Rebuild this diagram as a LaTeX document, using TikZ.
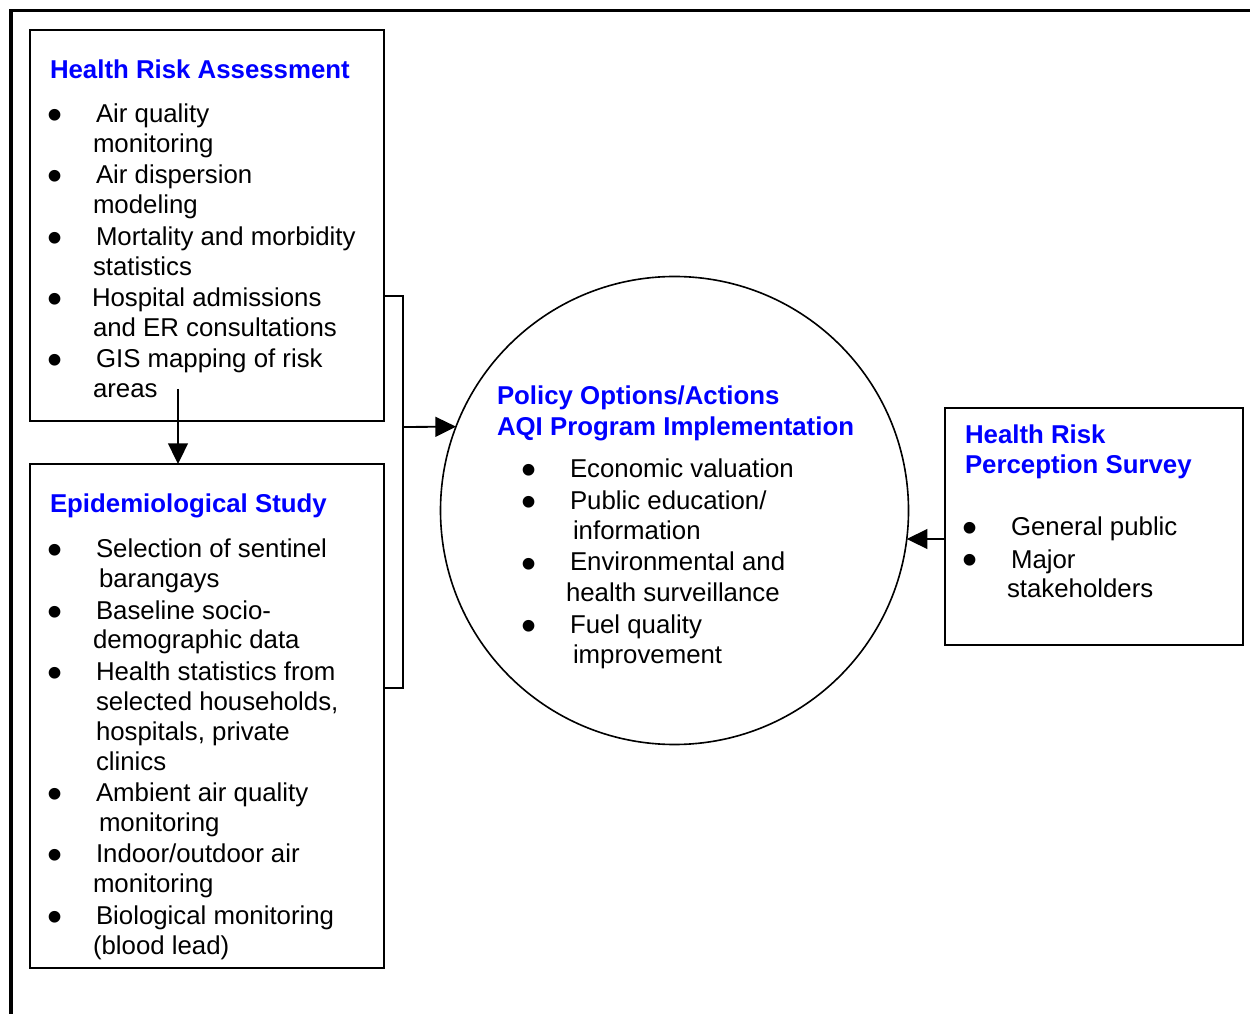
\documentclass[tikz,border=0pt]{standalone}
\usepackage{fontspec}
\setmainfont{Liberation Sans}
\usetikzlibrary{arrows.meta}
\newdimen\px \px=0.465pt
\definecolor{titleblue}{RGB}{0,0,255}
% one text line: name, x, baseline y, text
\newcommand\tline[4]{\node[txt] (#1) at (#2,#3) {#4};}
% one title line
\newcommand\titleline[4]{\node[ttl] (#1) at (#2,#3) {#4};}
% one bullet: name, x centre, baseline y
\newcommand\bulletmark[3]{\node[dot] (#1) at (#2,#3+7) {\textbullet};}
\begin{document}
\begin{tikzpicture}[x=0.465pt,y=-0.465pt,
  every node/.style={inner sep=0pt, outer sep=0pt},
  txt/.style={font=\fontsize{12}{13.9}\selectfont, anchor=base west, yshift=-1\px},
  ttl/.style={txt, font=\fontsize{12}{13.9}\selectfont\bfseries, text=titleblue},
  dot/.style={font=\fontsize{20}{20}\selectfont, anchor=base, yshift=-1\px},
  panel/.style={draw, line width=0.9pt},
  conn/.style={line width=0.85pt},
  arr/.style={conn, -{Triangle[length=9.6pt,width=9.2pt]}},
  frameline/.style={line width=1.4pt}]

\fill[white] (0,0) rectangle (1250,1014);
\useasboundingbox (0,0) rectangle (1250,1014);

% outer frame
\draw[frameline] (11,1014) -- (11,11) -- (1250,11);

% panels
\node[panel, minimum width=354\px, minimum height=391\px] (hra) at (207,225.5) {};
\node[panel, minimum width=354\px, minimum height=504\px] (epi) at (207,716) {};
\node[panel, minimum width=298\px, minimum height=237\px] (survey) at (1094,526.5) {};
\node[draw, circle, line width=0.75pt, minimum size=468\px] (policy) at (674.5,510.5) {};

% Health Risk Assessment
\titleline{hraT}{50}{78}{Health Risk Assessment}
\bulletmark{hraB1}{55}{122}\tline{hra1}{96}{122}{Air quality}\tline{hra1b}{93}{152}{monitoring}
\bulletmark{hraB2}{55}{183}\tline{hra2}{96}{183}{Air dispersion}\tline{hra2b}{93}{213}{modeling}
\bulletmark{hraB3}{55}{245}\tline{hra3}{96}{245}{Mortality and morbidity}\tline{hra3b}{93}{275}{statistics}
\bulletmark{hraB4}{55}{306}\tline{hra4}{92}{306}{Hospital admissions}\tline{hra4b}{93}{336}{and ER consultations}
\bulletmark{hraB5}{55}{367}\tline{hra5}{96}{367}{GIS mapping of risk}\tline{hra5b}{93}{397}{areas}

% Epidemiological Study
\titleline{epiT}{50}{512}{Epidemiological Study}
\bulletmark{epiB1}{55}{556}\tline{epi1}{96}{556}{Selection of sentinel}\tline{epi1b}{99}{586}{barangays}
\bulletmark{epiB2}{55}{618}\tline{epi2}{96}{618}{Baseline socio-}\tline{epi2b}{93}{647}{demographic data}
\bulletmark{epiB3}{55}{679}\tline{epi3}{96}{679}{Health statistics from}
\tline{epi3b}{96}{709}{selected households,}\tline{epi3c}{96}{739}{hospitals, private}\tline{epi3d}{96}{769}{clinics}
\bulletmark{epiB4}{55}{800}\tline{epi4}{96}{800}{Ambient air quality}\tline{epi4b}{99}{830}{monitoring}
\bulletmark{epiB5}{55}{861}\tline{epi5}{96}{861}{Indoor/outdoor air}\tline{epi5b}{93}{891}{monitoring}
\bulletmark{epiB6}{55}{923}\tline{epi6}{96}{923}{Biological monitoring}\tline{epi6b}{93}{953}{(blood lead)}

% Policy Options
\titleline{polT1}{497}{404}{Policy Options/Actions}
\titleline{polT2}{497}{435}{AQI Program Implementation}
\bulletmark{polB1}{529}{477}\tline{pol1}{570}{477}{Economic valuation}
\bulletmark{polB2}{529}{509}\tline{pol2}{570}{509}{Public education/}\tline{pol2b}{573}{539}{information}
\bulletmark{polB3}{529}{570}\tline{pol3}{570}{570}{Environmental and}\tline{pol3b}{566}{600}{health surveillance}
\bulletmark{polB4}{529}{632}\tline{pol4}{570}{632}{Fuel quality}\tline{pol4b}{573}{662}{improvement}

% Health Risk Perception Survey
\titleline{srvT1}{965}{443}{Health Risk}
\titleline{srvT2}{965}{473}{Perception Survey}
\bulletmark{srvB1}{970}{535}\tline{srv1}{1011}{535}{General public}
\bulletmark{srvB2}{970}{567}\tline{srv2}{1011}{567}{Major}\tline{srv2b}{1007}{596}{stakeholders}

% connectors
\coordinate (hradown) at (178,389);
\draw[arr] (hradown) -- (hradown |- epi.north);

\coordinate (join) at (403,427);
\draw[conn] (hra.east |- 0,296) -| (join) |- (epi.east |- 0,688);
\draw[arr] (join) -- (policy.159.1);

\draw[arr] (policy.-7 -| survey.west) -- (policy.-7);
\end{tikzpicture}
\end{document}
